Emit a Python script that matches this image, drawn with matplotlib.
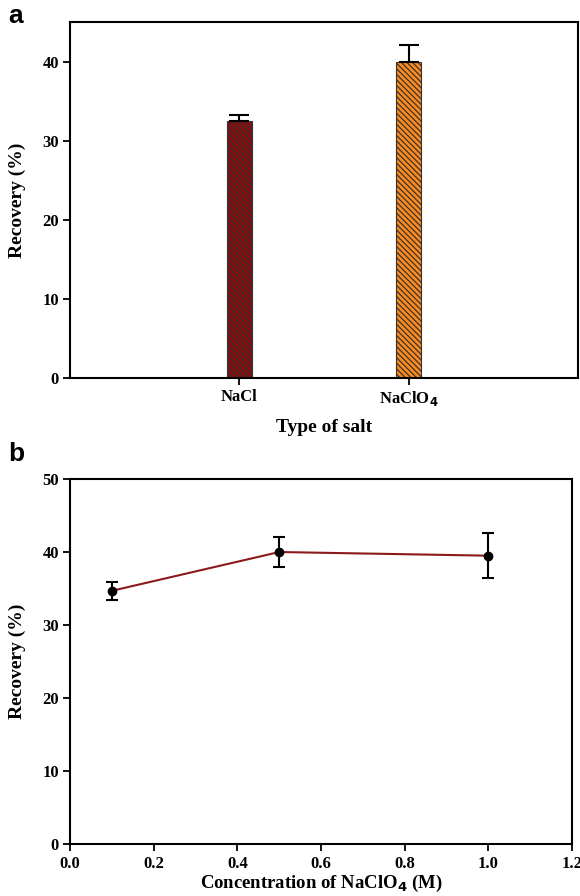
"""Recovery vs salt type and NaClO4 concentration."""

import matplotlib

matplotlib.use("Agg")

import matplotlib.pyplot as plt

# panel a: salt type
salts = ["NaCl", "NaClO$_4$"]
salt_recovery = [32.5, 40.0]
salt_err = [0.8, 2.2]
salt_colors = ["#8B0A0A", "#FF8A1C"]

# panel b: NaClO4 concentration
conc = [0.1, 0.5, 1.0]
conc_recovery = [34.7, 40.0, 39.5]
conc_err = [1.2, 2.1, 3.1]

plt.rcParams["font.family"] = ["Liberation Serif", "DejaVu Serif"]
plt.rcParams["font.weight"] = "bold"
plt.rcParams["axes.labelweight"] = "bold"
plt.rcParams["hatch.linewidth"] = 0.9
plt.rcParams["mathtext.default"] = "bf"

fig = plt.figure(figsize=(5.8, 8.96), dpi=100)
ax_a = fig.add_axes([0.121, 0.578, 0.875, 0.397])
ax_b = fig.add_axes([0.121, 0.0575, 0.865, 0.408])


def _style(axis):
    for spine in axis.spines.values():
        spine.set_linewidth(1.5)
    axis.tick_params(direction="out", width=1.3, length=5, pad=3, labelsize=12, top=False, right=False)
    for label in axis.get_xticklabels() + axis.get_yticklabels():
        label.set_fontweight("bold")


positions = list(range(1, len(salts) + 1))
for pos, value, err, color in zip(positions, salt_recovery, salt_err, salt_colors):
    ax_a.bar(pos, value, width=0.15, color=color, edgecolor="#333333", linewidth=0.8,
             hatch="\\\\\\\\\\\\", zorder=2)
    ax_a.errorbar(pos, value, yerr=[[0], [err]], fmt="none", ecolor="black",
                  elinewidth=1.5, capsize=7.5, capthick=1.5, zorder=3)
ax_a.set_xlim(0, 3)
ax_a.set_ylim(0, 45)
ax_a.set_xticks(positions)
ax_a.set_xticklabels(salts)
ax_a.set_yticks([0, 10, 20, 30, 40])
ax_a.set_xlabel("Type of salt", fontsize=14, labelpad=8)
ax_a.set_ylabel("Recovery (%)", fontsize=14, labelpad=12)
_style(ax_a)

ax_b.plot(conc, conc_recovery, color="#8B1A1A", linewidth=1.5, zorder=2)
ax_b.errorbar(conc, conc_recovery, yerr=conc_err, fmt="o", color="black", markersize=6,
              elinewidth=1.5, capsize=4.5, capthick=1.5, zorder=3)
ax_b.set_xlim(0, 1.2)
ax_b.set_ylim(0, 50)
ax_b.set_xticks([0.0, 0.2, 0.4, 0.6, 0.8, 1.0, 1.2])
ax_b.set_yticks([0, 10, 20, 30, 40, 50])
ax_b.set_xlabel("Concentration of NaClO$_4$ (M)", fontsize=13.5, labelpad=1)
ax_b.set_ylabel("Recovery (%)", fontsize=14, labelpad=12)
_style(ax_b)

fig.text(0.014, 0.982, "a", fontsize=19, fontweight="bold", family="Liberation Sans", va="center")
fig.text(0.014, 0.493, "b", fontsize=19, fontweight="bold", family="Liberation Sans", va="center")

fig.savefig("out.png", dpi=100)
plt.close(fig)
